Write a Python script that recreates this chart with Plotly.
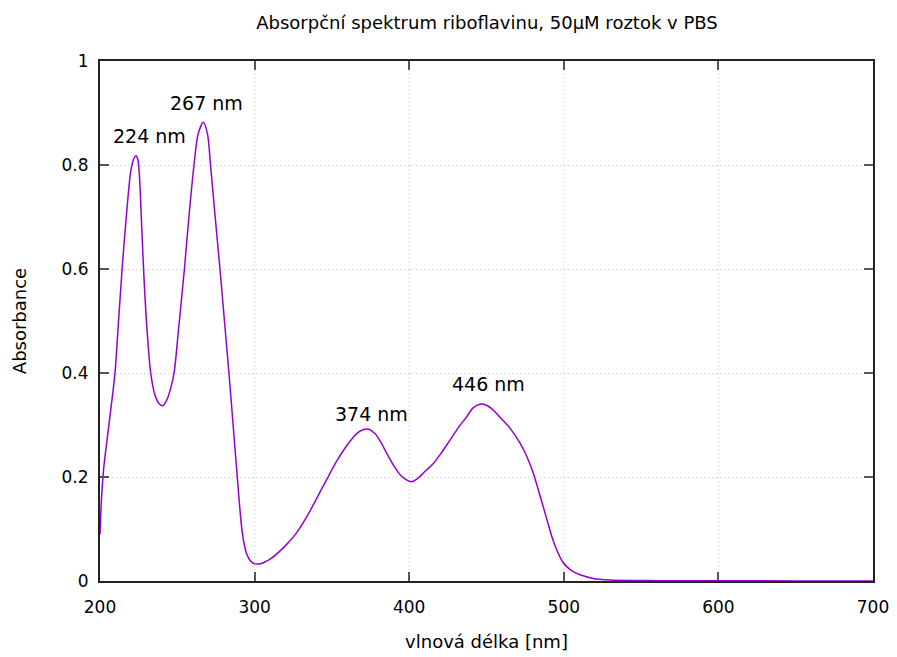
import plotly.graph_objects as go

wavelength = [200, 201, 202.5, 204.5, 207, 209.7, 212, 214.3, 217, 220, 222, 223.3, 224.5, 225.5,
              227, 228.5, 230.5, 232.8, 235.5, 238, 240.5, 243, 245.5, 247.9, 251, 254.6, 257.5,
              260.8, 263.5, 266.8, 269.5, 271.5, 274.5, 277.6, 280.5, 283.4, 286.1, 288.8, 290.3,
              291.6, 293, 294.8, 297, 299.2, 303.5, 310, 320, 327, 335, 340, 346.6, 353, 359.5,
              364, 368, 373.6, 378, 382, 385.4, 390, 394, 398, 401.6, 405, 410, 415.6, 420, 426.4,
              432, 437.2, 441, 445.8, 450, 455, 459, 465.2, 471.7, 476, 480.3, 484.5, 488.9, 492,
              495.4, 499, 501.9, 506, 510.5, 519, 530, 545, 560, 600, 650, 700]
absorbance = [0.09, 0.16, 0.22, 0.27, 0.33, 0.4, 0.5, 0.6, 0.7, 0.79, 0.813, 0.818, 0.81, 0.78,
              0.68, 0.58, 0.48, 0.4, 0.358, 0.342, 0.337, 0.347, 0.368, 0.4, 0.49, 0.6, 0.7,
              0.8, 0.86, 0.882, 0.86, 0.8, 0.7, 0.6, 0.5, 0.4, 0.3, 0.2, 0.145,
              0.104, 0.075, 0.053, 0.04, 0.034, 0.033, 0.042, 0.068, 0.092, 0.13, 0.158, 0.195, 0.23, 0.26,
              0.277, 0.288, 0.292, 0.283, 0.265, 0.246, 0.222, 0.205, 0.195, 0.191, 0.196, 0.21, 0.226, 0.243, 0.271,
              0.296, 0.316, 0.332, 0.34, 0.338, 0.327, 0.314, 0.294, 0.265, 0.24, 0.207, 0.165, 0.12, 0.088,
              0.06, 0.038, 0.0276, 0.018, 0.012, 0.005, 0.002, 0.001, 0.0007, 0.0004, 0.0002, 0.0]

peak_x = [232.3, 269.2, 375.9, 451.0]
peak_y = [0.856, 0.919, 0.321, 0.379]
peak_labels = ["224 nm", "267 nm", "374 nm", "446 nm"]

x_ticks = [200, 300, 400, 500, 600, 700]
y_ticks = [0, 0.2, 0.4, 0.6, 0.8, 1]
y_tick_text = ["0", "0.2", "0.4", "0.6", "0.8", "1"]

font_family = "DejaVu Sans"

# figure size compensates for the 8px default page margin
W, H = 889, 649

fig = go.Figure()
fig.add_trace(go.Scatter(
    x=wavelength, y=absorbance, mode="lines",
    line=dict(color="#9400D3", width=1.5, shape="spline", smoothing=0.8),
    showlegend=False, hoverinfo="x+y",
))

for px, py, lab in zip(peak_x, peak_y, peak_labels):
    fig.add_annotation(x=px, y=py, text=lab, showarrow=False,
                       font=dict(family=font_family, size=19, color="#000000"),
                       xanchor="center", yanchor="middle")

axis_common = dict(
    showline=True, linecolor="#222222", linewidth=2, mirror="ticks",
    ticks="inside", ticklen=9, tickwidth=1.5, tickcolor="#555555",
    showgrid=True, gridcolor="#c4c4c4", griddash="1px,3px", gridwidth=1,
    zeroline=False,
    tickfont=dict(family=font_family, size=17, color="#000000"),
)

fig.update_xaxes(range=[200, 700], tickvals=x_ticks, ticktext=[str(v) for v in x_ticks],
                 ticklabelstandoff=10,
                 title=dict(text="vlnová délka [nm]", font=dict(family=font_family, size=18, color="#000000"),
                            standoff=19),
                 **axis_common)
fig.update_yaxes(range=[0, 1], tickvals=y_ticks, ticktext=y_tick_text,
                 ticklabelstandoff=6,
                 title=dict(text="Absorbance", font=dict(family=font_family, size=18, color="#000000"),
                            standoff=30),
                 **axis_common)

fig.update_layout(
    width=W, height=H,
    margin=dict(l=92, r=24, t=53, b=76, autoexpand=False),
    plot_bgcolor="#ffffff", paper_bgcolor="#ffffff",
    title=dict(text="Absorpční spektrum riboflavinu, 50μM roztok v PBS",
               font=dict(family=font_family, size=18, color="#000000"),
               x=479 / W, xanchor="center", y=1 - 15 / H, yanchor="middle"),
)

fig.write_html("out.html")
